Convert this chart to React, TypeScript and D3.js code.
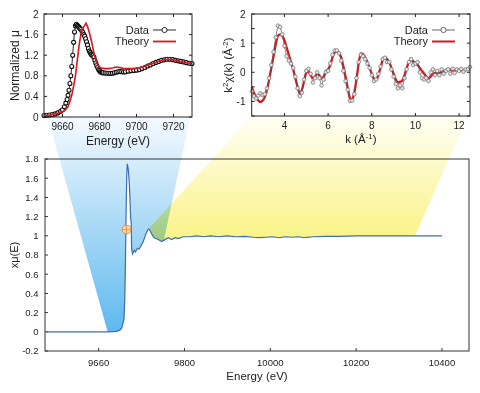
import React from 'react';
import * as d3 from 'd3';

// ---------- main spectrum ----------
const mainE = [9475, 9560, 9620, 9642, 9650, 9654, 9659, 9661, 9662.5, 9664, 9665.5, 9666.7, 9668, 9669.1, 9671.4, 9673, 9674.5, 9676, 9676.9, 9679.2, 9681, 9683, 9686, 9690, 9694, 9698, 9704, 9710, 9715.7, 9718, 9723.5, 9729, 9735, 9743, 9747, 9754.5, 9762, 9770, 9778, 9785.5, 9797, 9813, 9828, 9845, 9860, 9880, 9900, 9920, 9940, 9960, 9975, 9990, 10005, 10020, 10035, 10050, 10065, 10080, 10100, 10130, 10160, 10200, 10250, 10300, 10350, 10400];
const mainMu = [0, 0, 0, 0.005, 0.02, 0.04, 0.13, 0.35, 0.75, 1.25, 1.62, 1.75, 1.72, 1.69, 1.55, 1.38, 1.19, 1.13, 0.86, 0.81, 0.83, 0.85, 0.83, 0.87, 0.86, 0.89, 0.94, 1.02, 1.07, 1.07, 1.02, 0.98, 0.97, 0.95, 0.94, 0.96, 0.98, 0.96, 0.98, 0.97, 0.99, 0.99, 1.0, 0.99, 1.0, 0.99, 1.0, 0.99, 0.995, 0.985, 0.98, 0.985, 0.99, 0.98, 0.99, 0.985, 0.99, 0.98, 0.99, 0.995, 0.995, 1.0, 1.0, 1.0, 1.0, 1.0];
const mainXTicks = [9600, 9800, 10000, 10200, 10400];
const mainXTickLabels = ['9660', '9800', '10000', '10200', '10400'];
const mainYTicks = [-0.2, 0, 0.2, 0.4, 0.6, 0.8, 1, 1.2, 1.4, 1.6, 1.8];
const mainYTickLabels = ['-0.2', '0', '0.2', '0.4', '0.6', '0.8', '1', '1.2', '1.4', '1.6', '1.8'];
const e0Marker = { E: 9665, mu: 1.065 };

// ---------- XANES inset ----------
const xanesDataE = [9650, 9651.5, 9653, 9654.5, 9656, 9657.5, 9659, 9660, 9661, 9661.8, 9662.5, 9663, 9663.5, 9664, 9664.5, 9665, 9665.5, 9666, 9666.5, 9667, 9667.5, 9668, 9668.5, 9669, 9669.5, 9670, 9670.5, 9671, 9671.5, 9672, 9672.5, 9673, 9673.5, 9674, 9674.5, 9675, 9675.5, 9676, 9676.5, 9677, 9677.5, 9678, 9678.5, 9679, 9679.5, 9680, 9680.5, 9681, 9681.5, 9682, 9683, 9684, 9685, 9686, 9687, 9688, 9689, 9690, 9691, 9692, 9693, 9694, 9695.5, 9697, 9698.5, 9700, 9701.5, 9703, 9704.5, 9706, 9707.5, 9709, 9710.5, 9712, 9713.5, 9715, 9716.5, 9718, 9719.5, 9721, 9722.5, 9724, 9725.5, 9727, 9728.5, 9730];
const xanesDataMu = [0.03, 0.035, 0.04, 0.05, 0.06, 0.08, 0.11, 0.14, 0.2, 0.27, 0.34, 0.42, 0.52, 0.65, 0.8, 0.98, 1.2, 1.45, 1.65, 1.77, 1.8, 1.78, 1.76, 1.74, 1.72, 1.7, 1.67, 1.64, 1.6, 1.57, 1.52, 1.46, 1.4, 1.33, 1.28, 1.25, 1.22, 1.2, 1.19, 1.16, 1.1, 1.05, 1.0, 0.96, 0.92, 0.9, 0.88, 0.87, 0.86, 0.86, 0.855, 0.85, 0.85, 0.845, 0.85, 0.86, 0.87, 0.88, 0.885, 0.88, 0.875, 0.88, 0.89, 0.9, 0.905, 0.91, 0.92, 0.94, 0.96, 0.99, 1.01, 1.04, 1.06, 1.08, 1.1, 1.11, 1.12, 1.12, 1.115, 1.1, 1.09, 1.08, 1.07, 1.055, 1.045, 1.04];
const xanesTheoryE = [9650, 9653, 9656, 9658, 9660, 9661.5, 9663, 9664, 9665, 9666, 9667, 9668, 9669, 9670, 9671, 9672, 9672.7, 9673.5, 9674.5, 9675.5, 9676.5, 9677.5, 9678.5, 9679.5, 9681, 9683, 9685, 9687, 9689, 9691, 9693, 9696, 9699, 9702, 9705, 9708, 9711, 9714, 9717, 9720, 9723, 9726, 9730];
const xanesTheoryMu = [0.03, 0.04, 0.06, 0.08, 0.1, 0.14, 0.2, 0.3, 0.42, 0.6, 0.8, 1.1, 1.4, 1.62, 1.72, 1.78, 1.82, 1.76, 1.64, 1.5, 1.33, 1.16, 1.05, 0.98, 0.95, 0.94, 0.94, 0.95, 0.97, 0.96, 0.94, 0.94, 0.94, 0.96, 0.99, 1.03, 1.07, 1.1, 1.12, 1.11, 1.08, 1.06, 1.04];
const xanesXTicks = [9660, 9680, 9700, 9720];
const xanesYTicks = [0, 0.4, 0.8, 1.2, 1.6, 2];
const xanesYTickLabels = ['0', '0.4', '0.8', '1.2', '1.6', '2'];

// ---------- EXAFS inset ----------
const kValues = [2.5, 2.6, 2.7, 2.8, 2.9, 3.0, 3.1, 3.2, 3.3, 3.4, 3.5, 3.6, 3.7, 3.8, 3.9, 4.0, 4.1, 4.2, 4.3, 4.4, 4.5, 4.6, 4.7, 4.8, 4.9, 5.0, 5.1, 5.2, 5.3, 5.4, 5.5, 5.6, 5.7, 5.8, 5.9, 6.0, 6.1, 6.2, 6.3, 6.4, 6.5, 6.6, 6.7, 6.8, 6.9, 7.0, 7.1, 7.2, 7.3, 7.4, 7.5, 7.6, 7.7, 7.8, 7.9, 8.0, 8.1, 8.2, 8.3, 8.4, 8.5, 8.6, 8.7, 8.8, 8.9, 9.0, 9.1, 9.2, 9.3, 9.4, 9.5, 9.6, 9.7, 9.8, 9.9, 10.0, 10.1, 10.2, 10.3, 10.4, 10.5, 10.6, 10.7, 10.8, 10.9, 11.0, 11.1, 11.2, 11.3, 11.4, 11.5, 11.6, 11.7, 11.8, 11.9, 12.0, 12.1, 12.2, 12.3, 12.4, 12.5];
const exafsTheory = [-0.5, -0.7, -0.85, -0.97, -1.02, -0.97, -0.85, -0.6, -0.25, 0.15, 0.55, 0.95, 1.25, 1.3, 1.25, 1.1, 0.85, 0.6, 0.35, 0.1, -0.2, -0.5, -0.72, -0.6, -0.3, -0.02, 0.02, -0.1, -0.2, -0.15, -0.05, -0.1, -0.22, -0.15, 0.05, 0.1, 0.25, 0.5, 0.68, 0.72, 0.68, 0.5, 0.2, -0.15, -0.55, -0.88, -0.93, -0.7, -0.25, 0.3, 0.65, 0.62, 0.5, 0.35, 0.15, -0.05, -0.22, -0.27, -0.1, 0.15, 0.42, 0.52, 0.45, 0.35, 0.15, -0.05, -0.25, -0.35, -0.33, -0.28, -0.1, 0.15, 0.35, 0.43, 0.38, 0.3, 0.25, 0.15, 0.05, -0.05, -0.15, -0.2, -0.15, -0.05, -0.03, -0.03, -0.02, 0.0, 0.03, 0.08, 0.12, 0.1, 0.06, 0.05, 0.07, 0.08, 0.07, 0.06, 0.08, 0.08, 0.09];
const exafsData = [-0.65, -0.82, -0.9, -0.8, -0.72, -0.78, -0.75, -0.55, -0.2, 0.25, 0.7, 1.2, 1.6, 1.55, 1.3, 0.9, 0.55, 0.4, 0.3, 0.15, -0.15, -0.55, -0.82, -0.7, -0.25, 0.05, 0.12, -0.05, -0.35, -0.2, 0.0, -0.2, -0.45, -0.25, 0.0, 0.05, 0.3, 0.6, 0.75, 0.75, 0.65, 0.4, 0.05, -0.3, -0.6, -0.98, -0.97, -0.75, -0.2, 0.35, 0.6, 0.55, 0.45, 0.3, 0.15, -0.1, -0.3, -0.25, -0.05, 0.2, 0.45, 0.5, 0.35, 0.35, 0.1, -0.15, -0.4, -0.55, -0.45, -0.55, -0.2, 0.1, 0.35, 0.45, 0.25, 0.3, 0.35, 0.0, -0.2, -0.25, -0.2, -0.3, 0.0, 0.1, -0.1, 0.05, -0.1, 0.1, -0.05, 0.05, 0.1, -0.05, 0.12, -0.02, 0.1, 0.05, 0.12, 0.02, 0.1, 0.1, 0.18];
const exafsXTicks = [4, 6, 8, 10, 12];
const exafsYTicks = [-1.5, -1, -0.5, 0, 0.5, 1, 1.5, 2];
const exafsYLabelTicks = [-1, 0, 1, 2];

// ---------- zoom wedges (anchors in data units) ----------
const blueWedgeTopE = [9652, 9729];
const blueWedgeBaseE = [9621, 9752];
const yellowWedgeTopK = [2.5, 12.4];
const yellowWedgeBaseE = [9716, 10337];

const FONT = "'Liberation Sans', Arial, Helvetica, sans-serif";
const TXT = '#222';
const RED = '#d8171e';

export default function App() {
  const mx = d3.scaleLinear().domain([9475, 10463]).range([45, 469]);
  const my = d3.scaleLinear().domain([-0.2, 1.8]).range([351, 159]);
  const ax = d3.scaleLinear().domain([9650, 9730]).range([44, 192]);
  const ay = d3.scaleLinear().domain([0, 2]).range([117, 14]);
  const bx = d3.scaleLinear().domain([2.5, 12.5]).range([251.7, 470]);
  const by = d3.scaleLinear().domain([-1.5, 2]).range([116, 14]);

  const mainPts: [number, number][] = mainE.map((e, i) => [e, mainMu[i]]);
  const muAt = (e: number) => {
    const i = d3.bisector((d: [number, number]) => d[0]).left(mainPts, e);
    if (i <= 0) return mainPts[0][1];
    if (i >= mainPts.length) return mainPts[mainPts.length - 1][1];
    const [e0, m0] = mainPts[i - 1];
    const [e1, m1] = mainPts[i];
    return m0 + ((e - e0) / (e1 - e0)) * (m1 - m0);
  };

  const wedge = (tx0: number, tx1: number, ty: number, e0: number, e1: number) => {
    const pts: [number, number][] = [[tx0, ty], [mx(e0), my(muAt(e0))]];
    mainPts.filter((p) => p[0] > e0 && p[0] < e1).forEach((p) => pts.push([mx(p[0]), my(p[1])]));
    pts.push([mx(e1), my(muAt(e1))]);
    pts.push([tx1, ty]);
    return 'M' + pts.map((p) => p.join(',')).join('L') + 'Z';
  };

  const bluePath = wedge(ax(blueWedgeTopE[0]), ax(blueWedgeTopE[1]), ay(0), blueWedgeBaseE[0], blueWedgeBaseE[1]);
  const yellowPath = wedge(bx(yellowWedgeTopK[0]), bx(yellowWedgeTopK[1]), by(-1.5), yellowWedgeBaseE[0], yellowWedgeBaseE[1]);

  const mainLine = d3.line<[number, number]>().x((d) => mx(d[0])).y((d) => my(d[1]))(mainPts) || '';

  const xanesDataPts: [number, number][] = xanesDataE.map((e, i) => [e, xanesDataMu[i]]);
  const xanesTheoryPts: [number, number][] = xanesTheoryE.map((e, i) => [e, xanesTheoryMu[i]]);
  const aLine = d3.line<[number, number]>().x((d) => ax(d[0])).y((d) => ay(d[1]));

  const exDataPts: [number, number][] = kValues.map((k, i) => [k, exafsData[i]]);
  const exTheoryPts: [number, number][] = kValues.map((k, i) => [k, exafsTheory[i]]);
  const bLine = d3.line<[number, number]>().x((d) => bx(d[0])).y((d) => by(d[1])).curve(d3.curveMonotoneX);

  const TL = 3;

  return (
    <svg width={480} height={393} style={{ position: 'absolute', left: 0, top: 0, background: '#fff' }} fontFamily={FONT}>
      <defs>
        <linearGradient id="blueG" gradientUnits="userSpaceOnUse" x1={0} x2={0} y1={ay(0)} y2={my(0)}>
          <stop offset="0" stopColor="#f5faff" />
          <stop offset="1" stopColor="#5fb9ee" />
        </linearGradient>
        <linearGradient id="yellowG" gradientUnits="userSpaceOnUse" x1={0} x2={0} y1={by(-1.5)} y2={my(0.95)}>
          <stop offset="0" stopColor="#fffef3" />
          <stop offset="1" stopColor="#faf385" />
        </linearGradient>
      </defs>
      <rect x={0} y={0} width={480} height={393} fill="#fff" />

      <path d={bluePath} fill="url(#blueG)" />
      <path d={yellowPath} fill="url(#yellowG)" style={{ mixBlendMode: 'multiply' }} />

      <g>
        <rect x={mx.range()[0]} y={my.range()[1]} width={mx.range()[1] - mx.range()[0]} height={my.range()[0] - my.range()[1]} fill="none" stroke="#333" strokeWidth={1} />
        {mainXTicks.map((t, i) => (
          <g key={'mx' + t}>
            <line x1={mx(t)} x2={mx(t)} y1={my(-0.2)} y2={my(-0.2) - TL} stroke="#333" />
            <text x={mx(t)} y={366} textAnchor="middle" fontSize={9.5} fill={TXT}>{mainXTickLabels[i]}</text>
          </g>
        ))}
        {mainYTicks.map((t, i) => (
          <g key={'my' + t}>
            <line x1={mx.range()[0]} x2={mx.range()[0] + TL} y1={my(t)} y2={my(t)} stroke="#333" />
            <text x={38.5} y={my(t) + 3.3} textAnchor="end" fontSize={9.5} fill={TXT}>{mainYTickLabels[i]}</text>
          </g>
        ))}
        <text x={(mx.range()[0] + mx.range()[1]) / 2} y={380} textAnchor="middle" fontSize={11.5} fill={TXT}>Energy (eV)</text>
        <text transform={`translate(18,${(my.range()[0] + my.range()[1]) / 2}) rotate(-90)`} textAnchor="middle" fontSize={11} fill={TXT}>xμ(E)</text>
        <path d={mainLine} fill="none" stroke="#3b6db3" strokeWidth={1.2} />
        <g>
          <circle cx={mx(e0Marker.E)} cy={my(e0Marker.mu)} r={4.3} fill="#fde2bd" fillOpacity={0.85} stroke="#ec9a3c" strokeWidth={1.2} />
          <line x1={mx(e0Marker.E) - 4.3} x2={mx(e0Marker.E) + 4.3} y1={my(e0Marker.mu)} y2={my(e0Marker.mu)} stroke="#ec9a3c" strokeWidth={1} />
          <line x1={mx(e0Marker.E)} x2={mx(e0Marker.E)} y1={my(e0Marker.mu) - 4.3} y2={my(e0Marker.mu) + 4.3} stroke="#ec9a3c" strokeWidth={1} />
        </g>
      </g>

      {/* XANES inset */}
      <g>
        <rect x={ax.range()[0]} y={ay.range()[1]} width={ax.range()[1] - ax.range()[0]} height={ay.range()[0] - ay.range()[1]} fill="#fff" />
        <path d={aLine(xanesDataPts) || ''} fill="none" stroke="#111" strokeWidth={0.9} />
        {xanesDataPts.map((d, i) => (
          <circle key={'ad' + i} cx={ax(d[0])} cy={ay(d[1])} r={2} fill="#fff" stroke="#111" strokeWidth={1.1} />
        ))}
        <path d={aLine(xanesTheoryPts) || ''} fill="none" stroke={RED} strokeWidth={1.6} />
        <rect x={ax.range()[0]} y={ay.range()[1]} width={ax.range()[1] - ax.range()[0]} height={ay.range()[0] - ay.range()[1]} fill="none" stroke="#222" strokeWidth={1} />
        {xanesXTicks.map((t) => (
          <g key={'ax' + t}>
            <line x1={ax(t)} x2={ax(t)} y1={ay(0)} y2={ay(0) - TL} stroke="#222" />
            <line x1={ax(t)} x2={ax(t)} y1={ay(2)} y2={ay(2) + TL} stroke="#222" />
            <text x={ax(t)} y={130} textAnchor="middle" fontSize={10} fill={TXT}>{t}</text>
          </g>
        ))}
        {xanesYTicks.map((t, i) => (
          <g key={'ay' + t}>
            <line x1={ax.range()[0]} x2={ax.range()[0] + TL} y1={ay(t)} y2={ay(t)} stroke="#222" />
            <line x1={ax.range()[1]} x2={ax.range()[1] - TL} y1={ay(t)} y2={ay(t)} stroke="#222" />
            <text x={38.5} y={ay(t) + 3.5} textAnchor="end" fontSize={10} fill={TXT}>{xanesYTickLabels[i]}</text>
          </g>
        ))}
        <text x={(ax.range()[0] + ax.range()[1]) / 2} y={145} textAnchor="middle" fontSize={12} fill={TXT}>Energy (eV)</text>
        <text transform={`translate(19,${(ay.range()[0] + ay.range()[1]) / 2}) rotate(-90)`} textAnchor="middle" fontSize={12} fill={TXT}>Normalized μ</text>
        <text x={149} y={34} textAnchor="end" fontSize={11} fill={TXT}>Data</text>
        <line x1={153} x2={176} y1={30} y2={30} stroke="#111" strokeWidth={0.9} />
        <circle cx={164.5} cy={30} r={2.6} fill="#fff" stroke="#111" strokeWidth={0.9} />
        <text x={149} y={45} textAnchor="end" fontSize={11} fill={TXT}>Theory</text>
        <line x1={153} x2={176} y1={41.5} y2={41.5} stroke={RED} strokeWidth={1.8} />
      </g>

      {/* EXAFS inset */}
      <g>
        <rect x={bx.range()[0]} y={by.range()[1]} width={bx.range()[1] - bx.range()[0]} height={by.range()[0] - by.range()[1]} fill="#fff" />
        <path d={bLine(exTheoryPts) || ''} fill="none" stroke={RED} strokeWidth={2.3} />
        <path d={d3.line<[number, number]>().x((d) => bx(d[0])).y((d) => by(d[1]))(exDataPts) || ''} fill="none" stroke="#555" strokeWidth={0.7} />
        {exDataPts.map((d, i) => (
          <circle key={'bd' + i} cx={bx(d[0])} cy={by(d[1])} r={1.8} fill="#e6e6e6" stroke="#777" strokeWidth={0.8} />
        ))}
        <rect x={bx.range()[0]} y={by.range()[1]} width={bx.range()[1] - bx.range()[0]} height={by.range()[0] - by.range()[1]} fill="none" stroke="#222" strokeWidth={1} />
        {exafsXTicks.map((t) => (
          <g key={'bx' + t}>
            <line x1={bx(t)} x2={bx(t)} y1={by(-1.5)} y2={by(-1.5) - TL} stroke="#222" />
            <line x1={bx(t)} x2={bx(t)} y1={by(2)} y2={by(2) + TL} stroke="#222" />
            <text x={bx(t)} y={129} textAnchor="middle" fontSize={10} fill={TXT}>{t}</text>
          </g>
        ))}
        {exafsYTicks.map((t) => (
          <g key={'by' + t}>
            <line x1={bx.range()[0]} x2={bx.range()[0] + TL} y1={by(t)} y2={by(t)} stroke="#222" />
            <line x1={bx.range()[1]} x2={bx.range()[1] - TL} y1={by(t)} y2={by(t)} stroke="#222" />
          </g>
        ))}
        {exafsYLabelTicks.map((t) => (
          <text key={'byl' + t} x={245.5} y={by(t) + 3.5} textAnchor="end" fontSize={10} fill={TXT}>{t}</text>
        ))}
        <text x={(bx.range()[0] + bx.range()[1]) / 2} y={143} textAnchor="middle" fontSize={11.5} fill={TXT}>
          k (Å<tspan fontSize={8} dy={-4}>-1</tspan><tspan dy={4}>)</tspan>
        </text>
        <text transform={`translate(232,${(by.range()[0] + by.range()[1]) / 2}) rotate(-90)`} textAnchor="middle" fontSize={11.5} fill={TXT}>
          k<tspan fontSize={8} dy={-4}>2</tspan><tspan dy={4}>χ(k) (Å</tspan><tspan fontSize={8} dy={-4}>-2</tspan><tspan dy={4}>)</tspan>
        </text>
        <text x={428} y={34} textAnchor="end" fontSize={11} fill={TXT}>Data</text>
        <line x1={432} x2={455} y1={30} y2={30} stroke="#555" strokeWidth={0.9} />
        <circle cx={443.5} cy={30} r={2.6} fill="#fff" stroke="#555" strokeWidth={0.9} />
        <text x={428} y={45} textAnchor="end" fontSize={11} fill={TXT}>Theory</text>
        <line x1={432} x2={455} y1={41.5} y2={41.5} stroke={RED} strokeWidth={2} />
      </g>
    </svg>
  );
}
